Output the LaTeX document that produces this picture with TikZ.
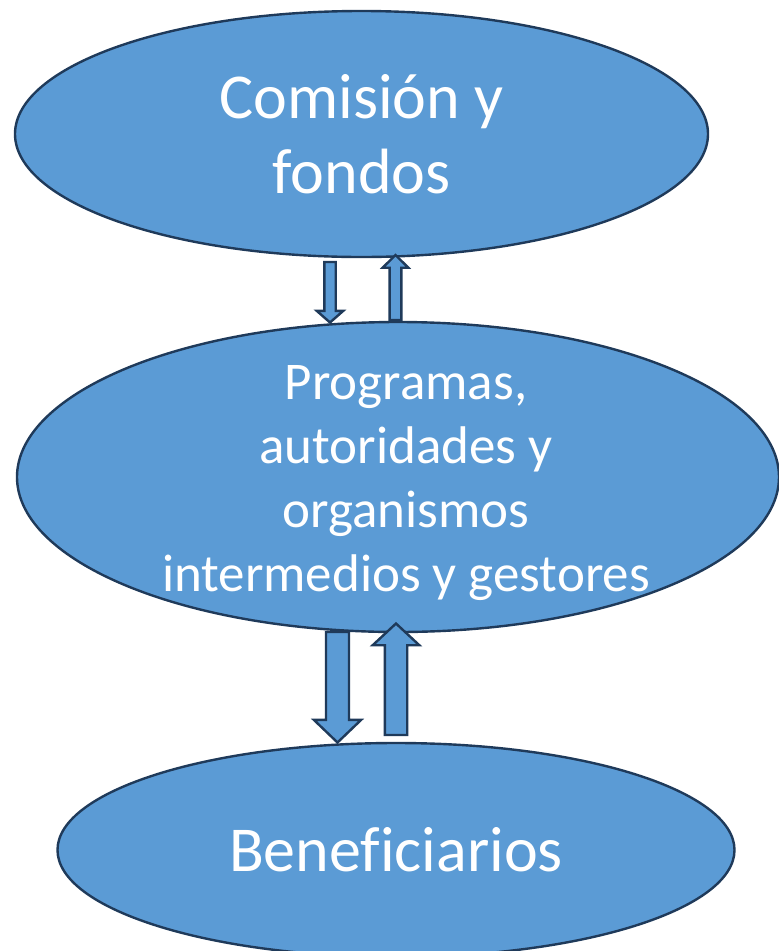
\documentclass[tikz,border=0pt]{standalone}
\usepackage{fontspec}
\setmainfont{Carlito}[Ligatures=NoCommon]
\usepackage{tikz}
\usetikzlibrary{calc,shapes.geometric}
\definecolor{ofill}{HTML}{5B9BD5}
\definecolor{oline}{HTML}{1F3A5A}
% vertical block arrow: start, tip, half shaft, half head, head length
\newcommand{\blockarrow}[5]{%
  \path ($(#2)!#5pt!(#1)$) coordinate (hb);
  \filldraw[barrow] ($(#1)+(-#3,0)$) -- ($(hb)+(-#3,0)$) -- ($(hb)+(-#4,0)$)
    -- (#2) -- ($(hb)+(#4,0)$) -- ($(hb)+(#3,0)$) -- ($(#1)+(#3,0)$) -- cycle;}
\tikzset{
  oval/.style={ellipse,draw=oline,line width=2.4pt,fill=ofill,text=white,
    inner sep=0pt,align=center},
  ovbig/.style={oval,font=\fontsize{64}{74.5}\selectfont},
  ovtext/.style={text=white,inner sep=0pt,align=center,font=\fontsize{53}{64}\selectfont},
  barrow/.style={draw=oline,line width=2.4pt,fill=ofill,line join=miter},
}
\begin{document}
\begin{tikzpicture}[x=1pt,y=-1pt]
  \useasboundingbox (0,0) rectangle (779,951);
  \node[ovbig,minimum width=693pt,minimum height=246pt] (com) at (361.5,134) {Comisión y\\fondos};
  \node[oval,minimum width=762pt,minimum height=310pt] (prog) at (398,477) {};
  \node[ovtext] (progtxt) at (406,483)
    {Programas,\\autoridades y\\organismos\\intermedios y gestores};
  \node[ovbig,minimum width=677pt,minimum height=214pt] (ben) at (396,850) {Beneficiarios};
  % arrows between the ovals
  \coordinate (d1) at (330,262);   \coordinate (d1t) at (330,322.5);
  \coordinate (u1) at (395.5,320); \coordinate (u1t) at (395.5,255);
  \coordinate (d2) at (337.5,632); \coordinate (d2t) at (337.5,742.5);
  \coordinate (u2) at (396,735);   \coordinate (u2t) at (396,623.5);
  \blockarrow{d1}{d1t}{5.7}{13.3}{11.7}
  \blockarrow{u1}{u1t}{5.9}{12.8}{12.7}
  \blockarrow{d2}{d2t}{11.5}{23.7}{22.7}
  \blockarrow{u2}{u2t}{11.2}{23.3}{21.7}
\end{tikzpicture}
\end{document}
